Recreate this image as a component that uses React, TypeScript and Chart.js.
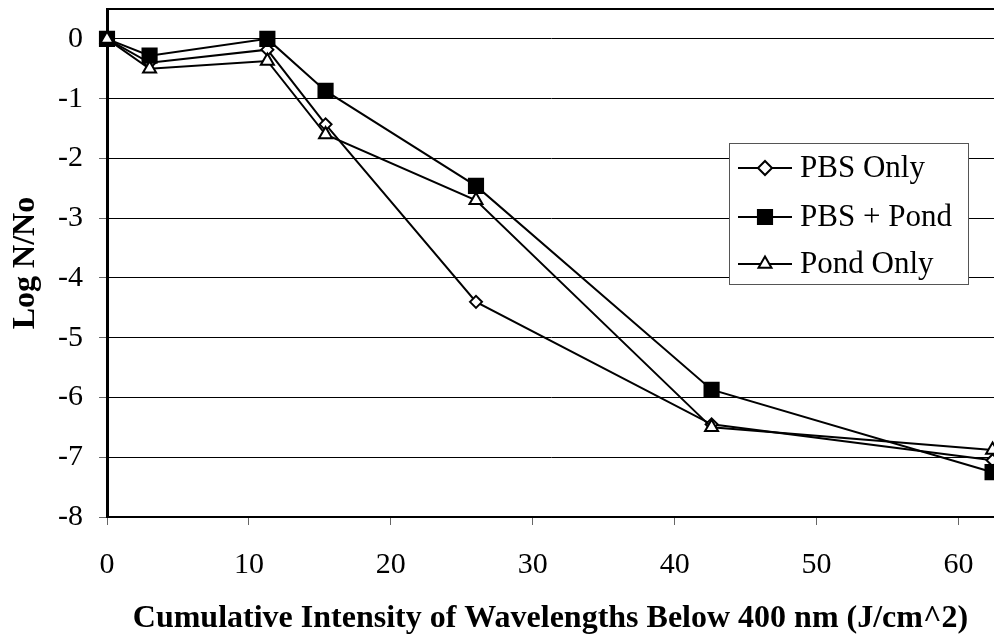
import React, { useEffect, useRef } from 'react';
import { Chart, registerables } from 'chart.js';

Chart.register(...registerables);

const xValues = [0, 3, 11.3, 15.4, 26, 42.6, 62.4];
const pbsOnly = [0, -0.4, -0.18, -1.43, -4.4, -6.45, -7.05];
const pbsPond = [0, -0.28, 0, -0.87, -2.46, -5.87, -7.25];
const pondOnly = [0, -0.5, -0.37, -1.6, -2.7, -6.5, -6.88];
const seriesNames = ['PBS Only', 'PBS + Pond', 'Pond Only'];
const xTicks = [0, 10, 20, 30, 40, 50, 60];
const yTicks = [0, -1, -2, -3, -4, -5, -6, -7, -8];
const xTitle = 'Cumulative Intensity of Wavelengths Below 400 nm (J/cm^2)';
const yTitle = 'Log N/No';

const FONT = '"Liberation Serif", "Times New Roman", serif';

function drawMarker(ctx: CanvasRenderingContext2D, style: string, x: number, y: number, r: number, fill: string) {
  ctx.save();
  ctx.fillStyle = fill;
  ctx.strokeStyle = '#000';
  ctx.lineWidth = 2;
  ctx.beginPath();
  if (style === 'rect') {
    const s = Math.SQRT1_2 * r;
    ctx.rect(x - s, y - s, 2 * s, 2 * s);
  } else if (style === 'rectRot') {
    ctx.moveTo(x - r, y);
    ctx.lineTo(x, y + r);
    ctx.lineTo(x + r, y);
    ctx.lineTo(x, y - r);
  } else {
    let rad = 0;
    ctx.moveTo(x + Math.sin(rad) * r, y - Math.cos(rad) * r);
    rad += (2 * Math.PI) / 3;
    ctx.lineTo(x + Math.sin(rad) * r, y - Math.cos(rad) * r);
    rad += (2 * Math.PI) / 3;
    ctx.lineTo(x + Math.sin(rad) * r, y - Math.cos(rad) * r);
  }
  ctx.closePath();
  ctx.fill();
  ctx.stroke();
  ctx.restore();
}

const frameAndLegend = {
  id: 'frameAndLegend',
  afterDatasetsDraw(chart: any) {
    const { ctx, chartArea } = chart;
    ctx.save();
    ctx.strokeStyle = '#000';
    ctx.lineWidth = 2;
    ctx.beginPath();
    ctx.moveTo(chartArea.left, chartArea.top);
    ctx.lineTo(chartArea.right, chartArea.top);
    ctx.stroke();

    const bx = chartArea.left + 622;
    const by = chartArea.top + 134;
    const bw = 239;
    const bh = 141;
    ctx.fillStyle = '#fff';
    ctx.fillRect(bx, by, bw, bh);
    ctx.strokeStyle = '#555';
    ctx.lineWidth = 1;
    ctx.strokeRect(bx + 0.5, by + 0.5, bw, bh);
    const rows = [25, 74, 121];
    ctx.font = `31px ${FONT}`;
    ctx.textBaseline = 'middle';
    ctx.textAlign = 'left';
    chart.data.datasets.forEach((ds: any, i: number) => {
      const y = by + rows[i];
      ctx.strokeStyle = '#000';
      ctx.lineWidth = 2;
      ctx.beginPath();
      ctx.moveTo(bx + 9, y);
      ctx.lineTo(bx + 63, y);
      ctx.stroke();
      const r = ds.pointStyle === 'rectRot' ? 7 : ds.pointRadius;
      drawMarker(ctx, ds.pointStyle, bx + 36, y, r, ds.pointBackgroundColor);
      ctx.fillStyle = '#000';
      ctx.fillText(ds.label, bx + 71, y + 1);
    });
    ctx.restore();
  },
};

export default function App() {
  const ref = useRef<HTMLCanvasElement | null>(null);

  useEffect(() => {
    document.body.style.margin = '0';
    if (!ref.current) return;
    const mk = (vals: number[]) => xValues.map((x, i) => ({ x, y: vals[i] }));
    const common = {
      borderColor: '#000',
      borderWidth: 2,
      pointBorderColor: '#000',
      pointBorderWidth: 2,
      showLine: true,
      tension: 0,
      clip: false as any,
    };
    const chart = new Chart(ref.current, {
      type: 'scatter',
      data: {
        datasets: [
          { ...common, order: 3, label: seriesNames[0], data: mk(pbsOnly), pointStyle: 'rectRot', pointRadius: 6, pointBackgroundColor: '#fff' },
          { ...common, order: 2, label: seriesNames[1], data: mk(pbsPond), pointStyle: 'rect', pointRadius: 10, pointBackgroundColor: '#000' },
          { ...common, order: 1, label: seriesNames[2], data: mk(pondOnly), pointStyle: 'triangle', pointRadius: 7.5, pointBackgroundColor: '#fff' },
        ] as any,
      },
      options: {
        animation: false,
        responsive: false,
        devicePixelRatio: 1,
        layout: { autoPadding: false, padding: { top: 9, right: 0, left: 0, bottom: 0 } },
        plugins: { legend: { display: false }, tooltip: { enabled: false } },
        scales: {
          x: {
            type: 'linear',
            min: 0,
            max: 62.5,
            afterBuildTicks: (s: any) => { s.ticks = xTicks.map((v) => ({ value: v })); },
            afterFit: (s: any) => { s.height = 122; s.paddingLeft = 0; s.paddingRight = 0; },
            grid: { drawOnChartArea: false, drawTicks: true, tickLength: 8, color: '#000', tickColor: '#666', lineWidth: 1 },
            border: { color: '#000', width: 2 },
            ticks: { color: '#000', font: { family: FONT, size: 30 }, padding: 22, maxRotation: 0 },
            title: { display: true, text: xTitle, color: '#000', font: { family: FONT, size: 32, weight: 'bold', lineHeight: 1 }, padding: { top: 4.5, bottom: 4.5 } },
          },
          y: {
            type: 'linear',
            min: -8,
            max: 0.5,
            afterBuildTicks: (s: any) => { s.ticks = yTicks.map((v) => ({ value: v })); },
            afterFit: (s: any) => { s.width = 107; s.paddingTop = 0; s.paddingBottom = 0; },
            grid: { drawOnChartArea: true, drawTicks: true, tickLength: 8, color: '#000', tickColor: '#666', lineWidth: 1 },
            border: { color: '#000', width: 3 },
            ticks: { color: '#000', font: { family: FONT, size: 30 }, padding: 16 },
            title: { display: true, text: yTitle, color: '#000', font: { family: FONT, size: 32, weight: 'bold' }, padding: { top: 7, bottom: 7 } },
          },
        },
      } as any,
      plugins: [frameAndLegend],
    });
    return () => chart.destroy();
  }, []);

  return (
    <div style={{ width: 994, height: 639, background: '#fff' }}>
      <canvas ref={ref} width={994} height={639} style={{ display: 'block' }} />
    </div>
  );
}
